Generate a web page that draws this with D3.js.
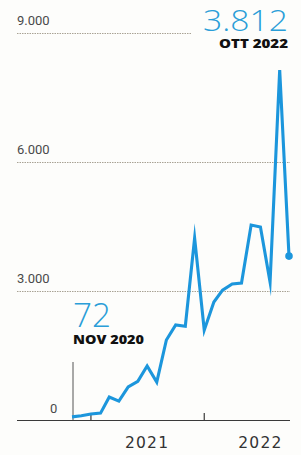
<!DOCTYPE html>
<html>
<head>
<meta charset="utf-8">
<script src="https://cdn.jsdelivr.net/npm/d3@7"></script>
<style>
  html, body { margin: 0; padding: 0; background: #fdfdfb; }
  svg { display: block; }
</style>
</head>
<body>
<svg width="301" height="455"></svg>
<script>
// months, Nov 2020 .. Oct 2022
const months = ["2020-11","2020-12","2021-01","2021-02","2021-03","2021-04","2021-05","2021-06",
  "2021-07","2021-08","2021-09","2021-10","2021-11","2021-12","2022-01","2022-02","2022-03",
  "2022-04","2022-05","2022-06","2022-07","2022-08","2022-09","2022-10"];
const values = [72, 100, 140, 160, 535, 440, 770, 900, 1255, 880, 1860, 2210, 2180, 4230,
  2090, 2745, 3020, 3165, 3185, 4535, 4490, 3210, 8140, 3812];
const yTicks = [0, 3000, 6000, 9000];
const yearTicks = ["2021-01", "2022-01"];
const yearLabels = [{ label: "2021", at: "2021-07" }, { label: "2022", at: "2022-07" }];

const parse = d3.timeParse("%Y-%m");
const data = months.map((m, i) => ({ date: parse(m), value: values[i] }));

var svg = d3.select("svg");

const x = d3.scaleTime()
  .domain([parse("2020-11"), parse("2022-10")])
  .range([72, 289]);
const y = d3.scaleLinear()
  .domain([0, 9000])
  .range([420, 33]);

const fmt = d3.formatLocale({ decimal: ",", thousands: ".", grouping: [3], currency: ["€", ""] }).format(",");

// gridlines
svg.append("g")
  .selectAll("line")
  .data(yTicks.filter(d => d > 0))
  .enter()
  .append("line")
  .attr("x1", 17)
  .attr("x2", d => d === 9000 ? 192 : 290)
  .attr("y1", d => y(d) + 0.5)
  .attr("y2", d => y(d) + 0.5)
  .attr("stroke", "#a8a294")
  .attr("stroke-width", 1)
  .attr("stroke-dasharray", "1.5,1");

// y labels
svg.append("g")
  .selectAll("text")
  .data(yTicks)
  .enter()
  .append("text")
  .attr("x", d => d === 0 ? 50 : 17)
  .attr("y", d => y(d) - (d === 0 ? 7 : 8))
  .attr("font-family", "Roboto, sans-serif")
  .attr("font-size", 13)
  .attr("fill", "#4a4a4a")
  .text(d => fmt(d));

// baseline + ticks
svg.append("line")
  .attr("x1", 17).attr("x2", 290)
  .attr("y1", y(0) + 0.5).attr("y2", y(0) + 0.5)
  .attr("stroke", "#3a3a3a").attr("stroke-width", 1.2);

svg.append("g")
  .selectAll("line")
  .data(yearTicks)
  .enter()
  .append("line")
  .attr("x1", d => x(parse(d))).attr("x2", d => x(parse(d)))
  .attr("y1", y(0) - 7).attr("y2", y(0))
  .attr("stroke", "#3a3a3a").attr("stroke-width", 1.2);

svg.append("g")
  .selectAll("text")
  .data(yearLabels)
  .enter()
  .append("text")
  .attr("x", d => x(parse(d.at)))
  .attr("y", 448)
  .attr("text-anchor", "middle")
  .attr("font-family", "'DejaVu Sans', sans-serif")
  .attr("font-size", 15.5)
  .attr("letter-spacing", 1.2)
  .attr("fill", "#333")
  .text(d => d.label);

// annotation for first point
const first = data[0], last = data[data.length - 1];
svg.append("line")
  .attr("x1", x(first.date) + 1).attr("x2", x(first.date) + 1)
  .attr("y1", 362).attr("y2", y(0))
  .attr("stroke", "#555").attr("stroke-width", 1);

svg.append("text")
  .attr("x", x(first.date) + 1)
  .attr("y", 344)
  .attr("font-family", "'Open Sans', sans-serif")
  .attr("font-weight", 800)
  .attr("font-size", 12.5)
  .attr("fill", "#111")
  .attr("textLength", 71)
  .attr("lengthAdjust", "spacingAndGlyphs")
  .text("NOV 2020");

svg.append("text")
  .attr("x", x(first.date) + 1)
  .attr("y", 327)
  .attr("font-family", "'Open Sans', sans-serif")
  .attr("font-weight", 300)
  .attr("font-size", 33)
  .attr("fill", "#2a9ed8")
  .attr("textLength", 38)
  .attr("lengthAdjust", "spacingAndGlyphs")
  .text(fmt(first.value));

// line
const line = d3.line()
  .x(d => x(d.date))
  .y(d => y(d.value));

svg.append("path")
  .datum(data)
  .attr("d", line)
  .attr("fill", "none")
  .attr("stroke", "#1c96dc")
  .attr("stroke-width", 3.1)
  .attr("stroke-linejoin", "miter")
  .attr("stroke-miterlimit", 20);

svg.append("circle")
  .attr("cx", x(last.date))
  .attr("cy", y(last.value))
  .attr("r", 3.8)
  .attr("fill", "#1c96dc");

// annotation for last point
svg.append("text")
  .attr("x", 288)
  .attr("y", 31)
  .attr("text-anchor", "end")
  .attr("font-family", "'Open Sans', sans-serif")
  .attr("font-weight", 300)
  .attr("font-size", 30)
  .attr("fill", "#2a9ed8")
  .attr("textLength", 85)
  .attr("lengthAdjust", "spacingAndGlyphs")
  .text(fmt(last.value));

svg.append("text")
  .attr("x", 288)
  .attr("y", 47.5)
  .attr("text-anchor", "end")
  .attr("font-family", "'Open Sans', sans-serif")
  .attr("font-weight", 800)
  .attr("font-size", 12)
  .attr("fill", "#111")
  .attr("textLength", 69)
  .attr("lengthAdjust", "spacingAndGlyphs")
  .text("OTT 2022");
</script>
</body>
</html>
